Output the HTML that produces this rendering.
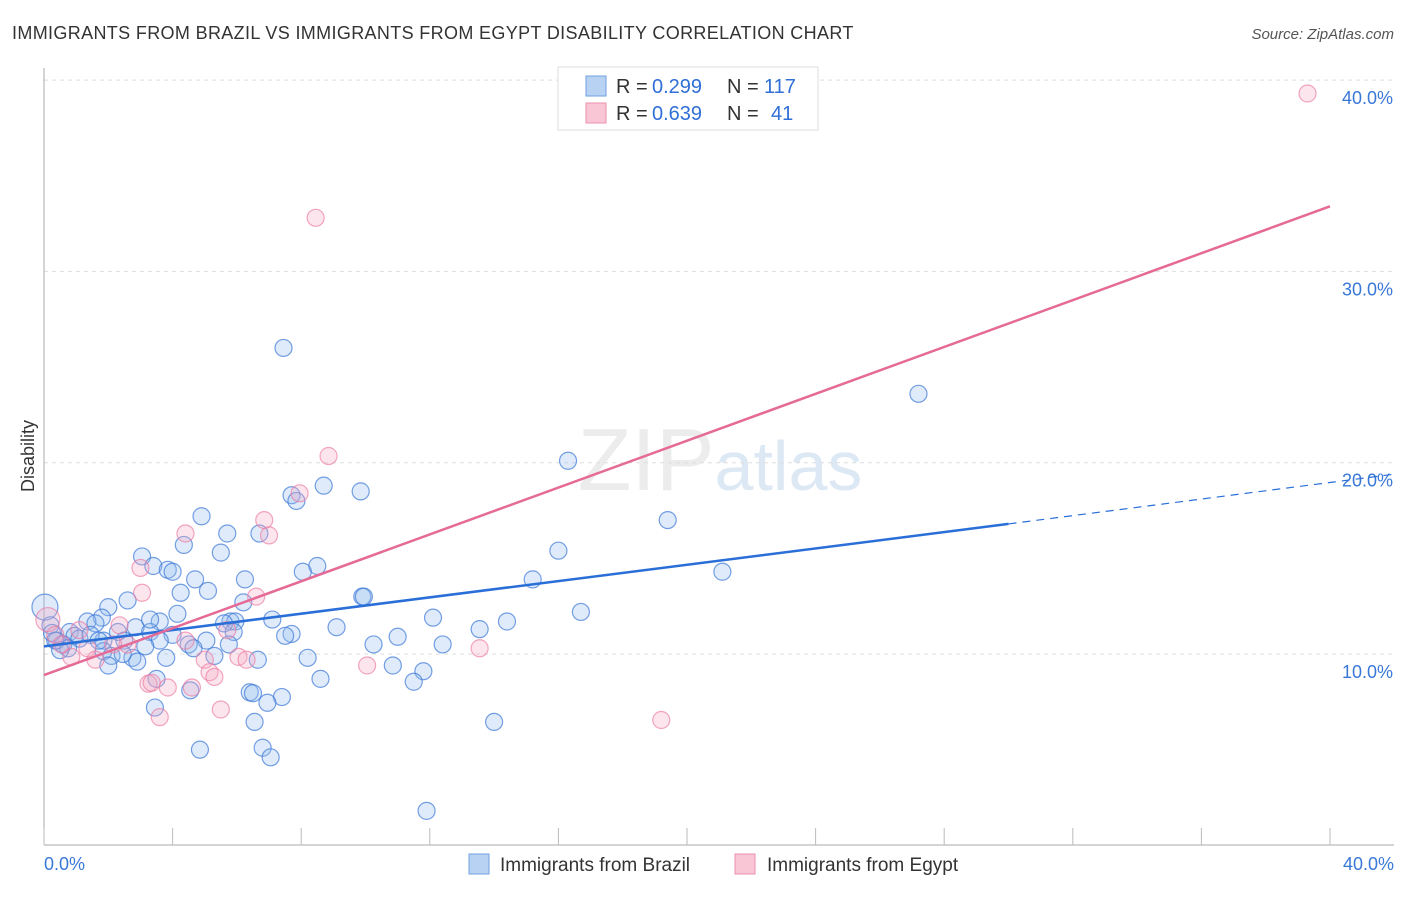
<!DOCTYPE html>
<html><head><meta charset="utf-8"><style>
body{margin:0;background:#fff;font-family:"Liberation Sans",sans-serif}
svg text{font-family:"Liberation Sans",sans-serif}
</style></head><body>
<svg width="1406" height="892" viewBox="0 0 1406 892" xmlns="http://www.w3.org/2000/svg">
<text x="12" y="39" font-size="18" fill="#333" letter-spacing="0.35">IMMIGRANTS FROM BRAZIL VS IMMIGRANTS FROM EGYPT DISABILITY CORRELATION CHART</text>
<text x="1394" y="39" font-size="15" fill="#555" text-anchor="end" font-style="italic">Source: ZipAtlas.com</text>
<text x="720" y="490" font-size="88" fill="#ececec" text-anchor="middle" font-family="Liberation Serif">ZIP<tspan fill="#dde8f5" font-family="Liberation Sans" font-size="70">atlas</tspan></text>
<g id="grid"></g>
<g id="axes"></g>
<g id="pts"></g>
<g id="lines"></g>
<text transform="translate(34,456) rotate(-90)" font-size="18" fill="#333" text-anchor="middle">Disability</text>
<g>
<rect x="558" y="67" width="260" height="63" fill="#fff" stroke="#ddd"/>
<rect x="586" y="76" width="20" height="20" fill="#b8d2f4" stroke="#6fa0e0"/>
<rect x="586" y="103" width="20" height="20" fill="#f9c6d6" stroke="#eb90ad"/>
<text x="616" y="93" font-size="20" fill="#333">R =</text><text x="652" y="93" font-size="20" fill="#2f6fd6">0.299</text>
<text x="727" y="93" font-size="20" fill="#333">N =</text><text x="764" y="93" font-size="20" fill="#2f6fd6">117</text>
<text x="616" y="120" font-size="20" fill="#333">R =</text><text x="652" y="120" font-size="20" fill="#2f6fd6">0.639</text>
<text x="727" y="120" font-size="20" fill="#333">N =</text><text x="771" y="120" font-size="20" fill="#2f6fd6">41</text>
</g>
<g>
<rect x="469" y="854" width="20" height="20" fill="#b8d2f4" stroke="#6fa0e0"/>
<text x="500" y="871" font-size="19" fill="#333">Immigrants from Brazil</text>
<rect x="735" y="854" width="20" height="20" fill="#f9c6d6" stroke="#eb90ad"/>
<text x="767" y="871" font-size="19" fill="#333">Immigrants from Egypt</text>
</g>
</svg>
<script>
const yTicks=[10,20,30,40];
const yTickLabels=["10.0%","20.0%","30.0%","40.0%"];
const xTicks=[0,4,8,12,16,20,24,28,32,36,40];
const brazilX=[7.45,27.2,16.3,8.7,9.85,7.7,7.85,19.4,4.9,5.7,6.7,4.35,16.0,5.5,3.05,3.4,3.85,4.0,8.5,8.05,21.1,15.2,4.7,6.25,5.1,4.25,9.9,9.95,2.6,6.2,2.0,16.7,4.15,3.6,1.8,2.85,5.8,5.95,5.6,7.1,12.1,14.4,13.55,9.1,1.35,1.6,3.3,5.9,7.7,7.5,11.0,5.05,4.0,2.3,10.25,12.4,5.75,4.5,4.65,3.6,3.15,2.5,1.85,0.8,0.95,1.1,0.4,0.6,0.75,0.03,0.2,0.25,0.35,0.5,1.85,2.1,2.75,2.9,2.45,2.0,3.8,5.3,6.65,8.2,10.85,11.8,11.5,8.6,3.5,4.55,6.4,6.5,7.4,6.95,3.45,6.55,14.0,4.85,6.8,7.05,11.9,1.45,1.7,3.3];
const brazilY=[26.0,23.6,20.1,18.8,18.5,18.3,18.0,17.0,17.2,16.3,16.3,15.7,15.4,15.3,15.1,14.6,14.4,14.3,14.6,14.3,14.3,13.9,13.9,13.9,13.3,13.2,13.0,13.0,12.8,12.7,12.45,12.2,12.1,11.7,11.9,11.4,11.7,11.7,11.6,11.8,11.9,11.7,11.3,11.4,11.7,11.6,11.15,11.15,11.05,10.95,10.9,10.7,11.0,11.15,10.5,10.5,10.5,10.5,10.3,10.7,10.4,10.7,10.7,11.15,10.95,10.8,10.7,10.5,10.3,12.45,11.5,11.1,10.7,10.2,10.15,9.9,9.8,9.6,10.0,9.4,9.8,9.9,9.7,9.8,9.4,9.1,8.55,8.7,8.7,8.1,8.0,7.95,7.75,7.45,7.2,6.45,6.45,5.0,5.1,4.6,1.8,11.0,10.7,11.8];
const egyptX=[39.3,8.45,8.85,7.95,6.85,7.0,4.4,3.0,3.05,6.6,2.35,5.7,4.4,2.6,0.12,0.35,0.55,1.35,0.85,1.6,5.0,6.05,6.3,10.05,13.55,5.15,5.3,3.25,3.35,3.85,4.6,5.5,3.6,19.2,2.15,1.1];
const egyptY=[39.3,32.8,20.35,18.4,17.0,16.2,16.3,14.5,13.2,13.0,11.5,11.25,10.7,10.5,11.8,11.0,10.5,10.3,9.85,9.7,9.7,9.85,9.7,9.4,10.3,9.05,8.8,8.45,8.5,8.25,8.25,7.1,6.7,6.55,10.5,11.25];
const brazilLine=[[0,10.4],[30,16.8]], brazilDash=[[30,16.8],[42,19.4]];
const egyptLine=[[0,8.9],[40,33.4]];
const X=v=>44+v*32.15, Y=v=>845.3-v*19.13;
const NS="http://www.w3.org/2000/svg";
function mk(t,a,p){const e=document.createElementNS(NS,t);for(const k in a)e.setAttribute(k,a[k]);p.appendChild(e);return e;}
const grid=document.getElementById('grid'),axes=document.getElementById('axes'),pts=document.getElementById('pts'),lines=document.getElementById('lines');
yTicks.forEach((t,i)=>{
 const l=mk('line',{x1:44,x2:1394,y1:Y(t),y2:Y(t),stroke:'#ddd','stroke-dasharray':'4,4'},grid);
 
 
 const tx=mk('text',{x:1393,y:Y(t)+24,'font-size':18,fill:'#3a78d8','text-anchor':'end'},axes);
 tx.textContent=yTickLabels[i];
 
 
});
const ax=mk('line',{x1:44,x2:44,y1:68,y2:845,stroke:'#aaa'},axes);


const bx=mk('line',{x1:44,x2:1394,y1:845,y2:845,stroke:'#aaa'},axes);


xTicks.forEach(t=>{const e=mk('line',{x1:X(t),x2:X(t),y1:828,y2:845,stroke:'#bbb'},axes);
 
 });
[[0,'0.0%','start',44],[40,'40.0%','end',1394]].forEach(d=>{const e=mk('text',{x:d[3],y:870,'font-size':18,fill:'#3a78d8','text-anchor':d[2]},axes);e.textContent=d[1];
 
 });
brazilX.forEach((x,i)=>{const c=mk('circle',{cx:X(x),cy:Y(brazilY[i]),r:x<0.1?13:8.5,fill:'rgba(150,190,240,0.3)',stroke:'rgba(60,120,215,0.7)','stroke-width':1.2},pts);
 
 });
egyptX.forEach((x,i)=>{const c=mk('circle',{cx:X(x),cy:Y(egyptY[i]),r:x<0.2?12:8.5,fill:'rgba(245,170,195,0.3)',stroke:'rgba(235,120,160,0.65)','stroke-width':1.2},pts);
 
 });
let e=mk('line',{x1:X(brazilLine[0][0]),y1:Y(brazilLine[0][1]),x2:X(brazilLine[1][0]),y2:Y(brazilLine[1][1]),stroke:'#2a6fd8','stroke-width':2.5},lines);


e=mk('line',{x1:X(brazilDash[0][0]),y1:Y(brazilDash[0][1]),x2:X(brazilDash[1][0]),y2:Y(brazilDash[1][1]),stroke:'#2a6fd8','stroke-width':1.2,'stroke-dasharray':'8,6'},lines);


e=mk('line',{x1:X(egyptLine[0][0]),y1:Y(egyptLine[0][1]),x2:X(egyptLine[1][0]),y2:Y(egyptLine[1][1]),stroke:'#e56a96','stroke-width':2.5},lines);


</script>
</body></html>
